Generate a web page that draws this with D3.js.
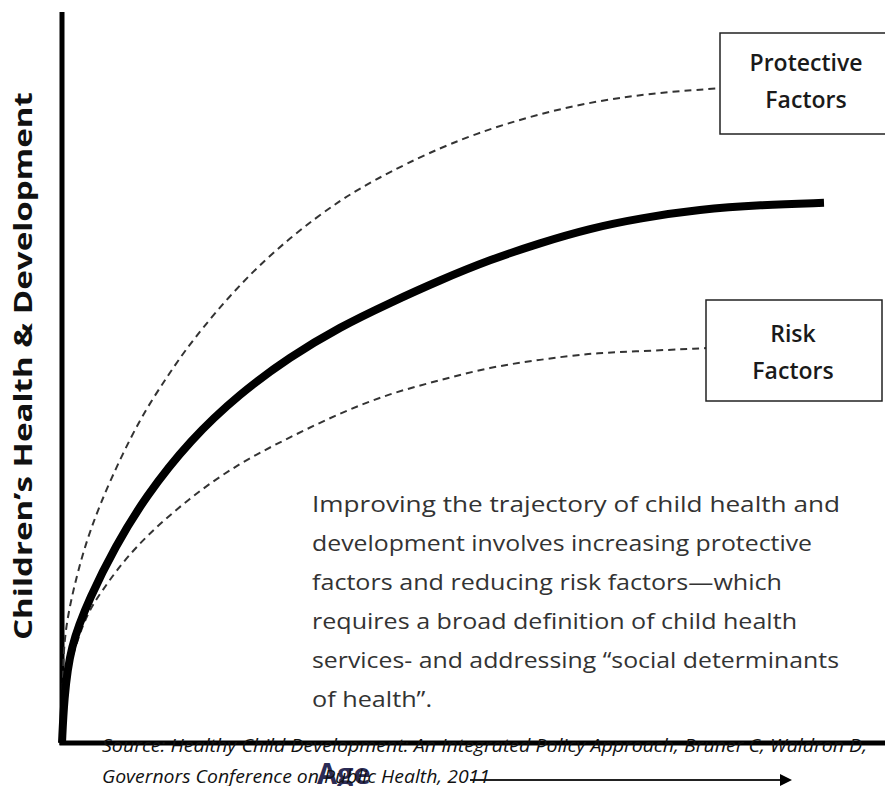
<!DOCTYPE html>
<html>
<head>
<meta charset="utf-8">
<script src="https://cdn.jsdelivr.net/npm/d3@7.9.0/dist/d3.min.js"></script>
<style>
  html, body { margin: 0; padding: 0; background: #fff; }
  svg { display: block; }
</style>
</head>
<body>
<svg id="chart" width="885" height="786"></svg>
<script>
// curve values (age 0..100, health 0..100)
const mainAge = [0, 0.25, 1, 3.5, 6.6, 10.4, 16, 22.25, 28.5, 34.75, 41, 47.25, 53.5, 59.75, 66, 72.25, 79.75, 87.25, 95.25];
const mainHealth = [0, 5.9, 13.2, 20, 26.8, 33.7, 41.5, 47.9, 52.9, 57, 60.3, 63.4, 66.2, 68.5, 70.5, 71.9, 73.1, 73.7, 74];

const protAge = [0.1, 0.2, 1.9, 3.5, 6, 9.75, 13.1, 16, 22.25, 28.5, 34.75, 40.1, 51, 67.25, 82.25];
const protHealth = [7.3, 15.1, 23.3, 29.2, 36, 44.5, 50.1, 54.8, 63, 69.3, 74.4, 77.8, 83.6, 88.5, 89.7];

const riskAge = [0.1, 2.6, 4.75, 8.9, 16, 22.25, 28.5, 34.75, 41, 47.25, 53.5, 59.75, 66, 71, 80.5];
const riskHealth = [7.3, 16.8, 20.5, 26.8, 33.7, 38.4, 41.9, 45.2, 47.9, 49.7, 51.5, 52.5, 53.4, 53.6, 54.1];

const boxLabels = [["Protective", "Factors"], ["Risk", "Factors"]];
const yLabel = "Children\u2019s Health & Development";
const xLabel = "Age";
const noteLines = [
  "Improving the trajectory of child health and",
  "development involves increasing protective",
  "factors and reducing risk factors\u2014which",
  "requires a broad definition of child health",
  "services- and addressing \u201csocial determinants",
  "of health\u201d."
];
const sourceLines = [
  "Source: Healthy Child Development: An Integrated Policy Approach, Bruner C, Waldron D,",
  "Governors Conference on Public Health, 2011"
];

const svg = d3.select('#chart');

const x = d3.scaleLinear().domain([0, 100]).range([62, 862]);
const y = d3.scaleLinear().domain([0, 100]).range([743, 13]);

const line = d3.line()
  .x(d => x(d[0]))
  .y(d => y(d[1]))
  .curve(d3.curveBasis);

const zip = (a, b) => a.map((v, i) => [v, b[i]]);

// axes
svg.append('line')
  .attr('x1', x(0)).attr('x2', x(0))
  .attr('y1', y(0) + 2).attr('y2', y(100) - 1)
  .attr('stroke', '#000').attr('stroke-width', 5);
svg.append('line')
  .attr('x1', x(0) - 2.5).attr('x2', 885)
  .attr('y1', y(0)).attr('y2', y(0))
  .attr('stroke', '#000').attr('stroke-width', 5);

// dashed curves
[[protAge, protHealth], [riskAge, riskHealth]].forEach(([a, h]) => {
  svg.append('path')
    .attr('d', line(zip(a, h)))
    .attr('fill', 'none')
    .attr('stroke', '#333')
    .attr('stroke-width', 2)
    .attr('stroke-dasharray', '7,5');
});

// main trajectory
svg.append('path')
  .attr('d', line(zip(mainAge, mainHealth)))
  .attr('fill', 'none')
  .attr('stroke', '#000')
  .attr('stroke-width', 8);

// label boxes
const boxes = [
  { x: 720, y: 33, w: 175, h: 101, cx: 806, ty: 38 },
  { x: 706, y: 300, w: 176, h: 101, cx: 793, ty: 42 }
];
boxes.forEach((b, i) => {
  svg.append('rect')
    .attr('x', b.x).attr('y', b.y)
    .attr('width', b.w).attr('height', b.h)
    .attr('fill', '#fff')
    .attr('stroke', '#222')
    .attr('stroke-width', 1.5);
  boxLabels[i].forEach((t, j) => {
    svg.append('text')
      .attr('x', b.cx)
      .attr('y', b.y + b.ty + j * 37)
      .attr('text-anchor', 'middle')
      .attr('font-family', 'Open Sans, sans-serif')
      .attr('font-weight', 600)
      .attr('font-size', 23)
      .attr('fill', '#1a1a1a')
      .text(t);
  });
});

// y-axis title
svg.append('text')
  .attr('transform', 'translate(32,366) rotate(-90)')
  .attr('text-anchor', 'middle')
  .attr('font-family', 'Open Sans, sans-serif')
  .attr('font-weight', 700)
  .attr('font-size', 25)
  .attr('textLength', 548)
  .attr('lengthAdjust', 'spacingAndGlyphs')
  .attr('fill', '#111')
  .text(yLabel);

// note paragraph
const noteWidths = [528, 500, 470, 485, 527, 120];
noteLines.forEach((t, i) => {
  svg.append('text')
    .attr('x', 312)
    .attr('y', 512 + i * 39)
    .attr('font-family', 'Open Sans, sans-serif')
    .attr('font-size', 21)
    .attr('fill', '#333')
    .attr('textLength', noteWidths[i])
    .attr('lengthAdjust', 'spacingAndGlyphs')
    .text(t);
});

// x-axis arrow
svg.append('defs').append('marker')
  .attr('id', 'arrow')
  .attr('viewBox', '0 0 10 10')
  .attr('refX', 0).attr('refY', 5)
  .attr('markerWidth', 9).attr('markerHeight', 6)
  .attr('markerUnits', 'strokeWidth')
  .attr('orient', 'auto')
  .append('path')
  .attr('d', 'M0,0 L10,5 L0,10 Z')
  .attr('fill', '#000');
svg.append('line')
  .attr('x1', 470).attr('x2', 780)
  .attr('y1', 780).attr('y2', 780)
  .attr('stroke', '#222')
  .attr('stroke-width', 2)
  .attr('marker-end', 'url(#arrow)');

// x-axis title (partly hidden behind source)
svg.append('text')
  .attr('x', 317)
  .attr('y', 784)
  .attr('font-family', 'Open Sans, sans-serif')
  .attr('font-weight', 700)
  .attr('font-size', 29)
  .attr('fill', '#2b2b55')
  .text(xLabel);

// source
const sourceWidths = [765, 388];
sourceLines.forEach((t, i) => {
  svg.append('text')
    .attr('x', 102)
    .attr('y', 752 + i * 31)
    .attr('font-family', 'Open Sans, sans-serif')
    .attr('font-style', 'italic')
    .attr('font-size', 18)
    .attr('fill', '#111')
    .attr('textLength', sourceWidths[i])
    .attr('lengthAdjust', 'spacingAndGlyphs')
    .text(t);
});
</script>
</body>
</html>
